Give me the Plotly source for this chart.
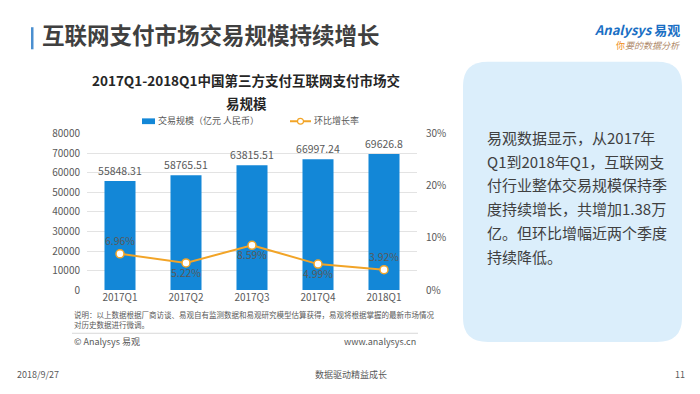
import plotly.graph_objects as go

# ---- data ----
quarters = ["2017Q1", "2017Q2", "2017Q3", "2017Q4", "2018Q1"]
volume = [55848.31, 58765.51, 63815.51, 66997.24, 69626.8]
volume_labels = ["55848.31", "58765.51", "63815.51", "66997.24", "69626.8"]
growth = [0.0696, 0.0522, 0.0859, 0.0499, 0.0392]
growth_labels = ["6.96%", "5.22%", "8.59%", "4.99%", "3.92%"]
growth_label_pos = ["top center", "bottom center", "bottom center", "bottom center", "top center"]

slide_title = "互联网支付市场交易规模持续增长"
chart_title_lines = ["2017Q1-2018Q1中国第三方支付互联网支付市场交", "易规模"]
legend_bar = "交易规模（亿元 人民币）"
legend_line = "环比增长率"
note_lines = ["说明：以上数据根据厂商访谈、易观自有监测数据和易观研究模型估算获得，易观将根据掌握的最新市场情况",
              "对历史数据进行微调。"]
panel_lines = ["易观数据显示，从2017年", "Q1到2018年Q1，互联网支", "付行业整体交易规模保持季",
               "度持续增长，共增加1.38万", "亿。但环比增幅近两个季度", "持续降低。"]

W, H = 700, 394
FONT = "Noto Sans CJK SC, Noto Sans, sans-serif"
GRAY = "#595959"
BLUE = "#1387d7"
ORANGE = "#f2a427"


def px(x):
    return x / W


def py(y):
    return 1 - y / H


fig = go.Figure()
fig.add_trace(go.Bar(
    x=quarters, y=volume, name=legend_bar,
    marker=dict(color=BLUE, line=dict(width=0)),
    text=volume_labels, textposition="outside", cliponaxis=False, constraintext="none",
    textfont=dict(size=10.5, color=GRAY, family=FONT),
    yaxis="y",
))
fig.add_trace(go.Scatter(
    x=quarters, y=growth, name=legend_line, mode="lines+markers+text",
    line=dict(color=ORANGE, width=2),
    marker=dict(size=8, color="white", line=dict(color=ORANGE, width=1.5)),
    text=growth_labels, textposition=growth_label_pos,
    textfont=dict(size=10.5, color=GRAY, family=FONT),
    yaxis="y2", cliponaxis=False,
))

x_dom = [px(87), px(417)]
y_dom = [py(293), py(130)]

fig.update_layout(
    width=W, height=H, autosize=False,
    margin=dict(l=0, r=0, t=0, b=0),
    paper_bgcolor="white", plot_bgcolor="white",
    font=dict(family=FONT, color=GRAY),
    bargap=0.53,
    showlegend=False,
    xaxis=dict(domain=x_dom, showgrid=False, showline=False, ticks="",
               tickfont=dict(size=10, color=GRAY, family=FONT)),
    yaxis=dict(domain=y_dom, range=[0, 80000], dtick=10000, showgrid=True,
               gridcolor="#e3e3e3", gridwidth=1, zeroline=False, showline=False,
               tickfont=dict(size=10, color=GRAY, family=FONT), ticklabelstandoff=6,
               tickformat="d"),
    yaxis2=dict(overlaying="y", side="right", range=[0, 0.30], dtick=0.1, tickformat=".0%",
                showgrid=False, zeroline=False, showline=False,
                tickfont=dict(size=10, color=GRAY, family=FONT), ticklabelstandoff=8),
)

# title accent bar
fig.add_shape(type="rect", xref="paper", yref="paper", x0=px(31), x1=px(33.5), y0=py(42), y1=py(19),
              fillcolor="#4a8fd0", line=dict(width=0))
# right panel rounded rect
x0, x1, yt, yb = px(463), px(682), py(55), py(347)
rx, ry = 25 / W, 25 / H
path = (f"M {x0+rx},{yt} L {x1-rx},{yt} Q {x1},{yt} {x1},{yt-ry} L {x1},{yb+ry} "
        f"Q {x1},{yb} {x1-rx},{yb} L {x0+rx},{yb} Q {x0},{yb} {x0},{yb+ry} "
        f"L {x0},{yt-ry} Q {x0},{yt} {x0+rx},{yt} Z")
fig.add_shape(type="path", xref="paper", yref="paper", path=path,
              fillcolor="#dbeefb", line=dict(width=0), layer="below")
# separator line
fig.add_shape(type="line", xref="paper", yref="paper", x0=px(72), x1=px(418), y0=py(338), y1=py(338),
              line=dict(color="#d9d9d9", width=1))

# legend (drawn by hand to mimic the original key shapes)
fig.add_shape(type="rect", xref="paper", yref="paper", x0=px(142), x1=px(155), y0=py(120), y1=py(114),
              fillcolor=BLUE, line=dict(width=0))
fig.add_shape(type="line", xref="paper", yref="paper", x0=px(290), x1=px(311), y0=py(117), y1=py(117),
              line=dict(color=ORANGE, width=2))
fig.add_shape(type="circle", xref="paper", yref="paper", x0=px(297.5), x1=px(303.5), y0=py(120), y1=py(114),
              fillcolor="white", line=dict(color=ORANGE, width=1.2))


def ann(text, x, y, size, color=GRAY, xanchor="left", weight="normal"):
    fig.add_annotation(text=text, x=px(x), y=py(y), xref="paper", yref="paper",
                       xanchor=xanchor, yanchor="middle", showarrow=False,
                       font=dict(size=size, color=color, family=FONT, weight=weight))


ann(legend_bar, 156, 116, 9)
ann(legend_line, 312, 116, 9)

ann(slide_title, 40, 26, 22.5, color="#404040", weight="bold")
ann(chart_title_lines[0], 246, 74, 13.5, color="#262626", xanchor="center", weight="bold")
ann(chart_title_lines[1], 246, 98, 13.5, color="#262626", xanchor="center", weight="bold")

# logo
ann("<i>Analysys</i> 易观", 682, 21, 13, color="#1a6fc4", xanchor="right", weight="bold")
ann("<span style='color:#f08c1a'>你</span><i>要的数据分析</i>", 682, 38, 9, color="#b08a6a", xanchor="right")

# notes
ann(note_lines[0], 72, 318, 7.5)
ann(note_lines[1], 72, 329, 7.5)
ann("© Analysys 易观", 72, 347, 9)
ann("www.analysys.cn", 418, 347, 9, xanchor="right")

# panel text
for i, line in enumerate(panel_lines):
    ann(line, 485, 134 + i * 24.7, 15, color="#404040")

# footer
ann("2018/9/27", 15, 381, 9)
ann("数据驱动精益成长", 351, 381, 9, xanchor="center")
ann("11", 687, 381, 9, xanchor="right")

fig.write_html("out.html", config={"displayModeBar": False},
               post_script="document.body.style.margin='0px';")
